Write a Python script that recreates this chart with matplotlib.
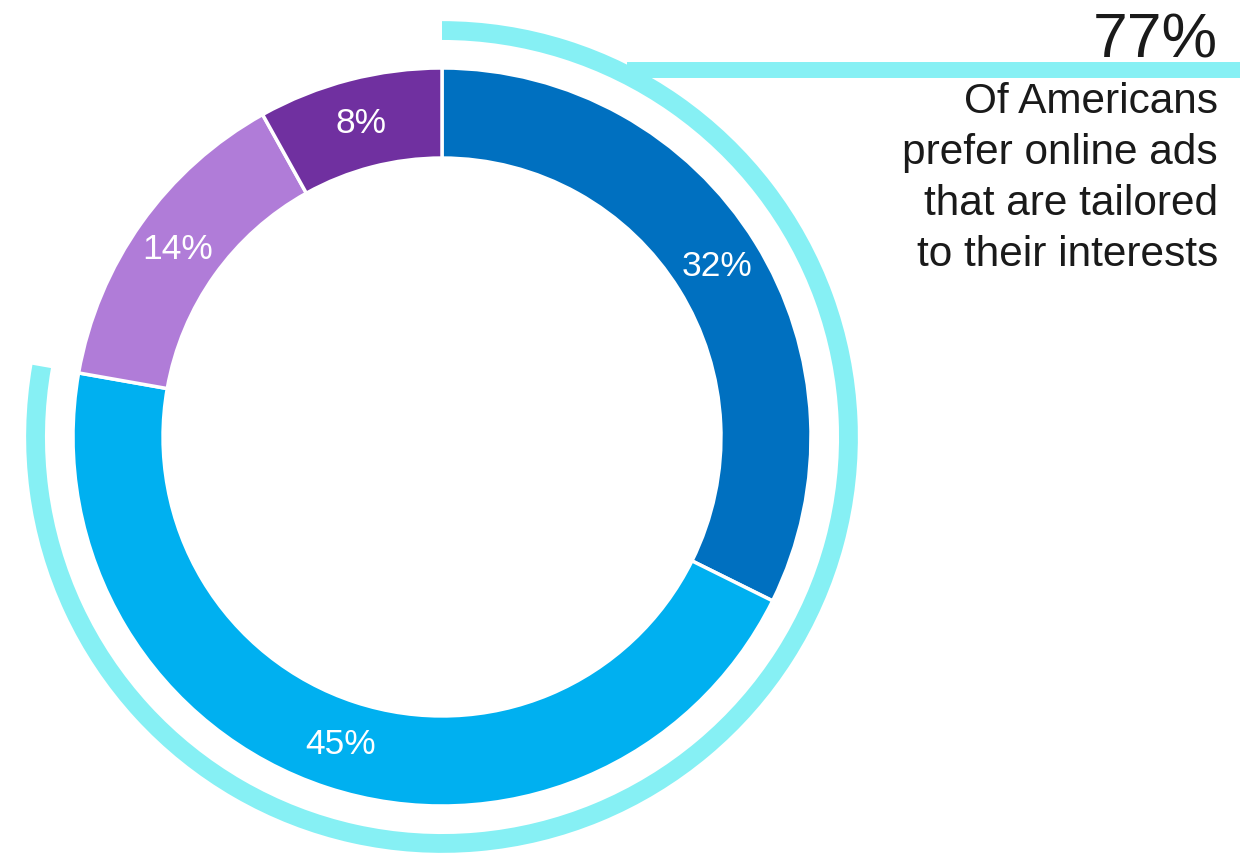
import matplotlib.pyplot as plt

plt.rcParams['font.family'] = ['Liberation Sans', 'DejaVu Sans']

# Dados do gráfico
valores = [32, 45, 14, 8]
rotulos = ['32%', '45%', '14%', '8%']
cores = ['#0070C0', '#00B0F0', '#B07CD8', '#7030A0']

destaque = 77  # 32% + 45%
destaque_rotulo = '77%'
descricao = ['Of Americans', 'prefer online ads', 'that are tailored', 'to their interests']

cor_arco = '#86F0F4'
cor_texto = '#1a1a1a'

fig = plt.figure(figsize=(12.48, 8.63), dpi=100)
ax = fig.add_axes([0, 0, 1, 1])

# unidades: raio externo do anel = 1 (369 px)
R = 369.0
cx, cy = 442.0, 437.0

# Anel principal
wedges, textos = ax.pie(valores, colors=cores, startangle=90, counterclock=False,
                        radius=1.0, labels=rotulos, labeldistance=0.878,
                        wedgeprops=dict(width=0.244, edgecolor='white', linewidth=2.5),
                        textprops=dict(color='white', fontsize=25.5))
for t in textos:
    t.set_horizontalalignment('center')
    t.set_verticalalignment('center')

# Arco externo com o total destacado
ax.pie([destaque, sum(valores) - destaque], colors=[cor_arco, 'none'], startangle=90,
       counterclock=False, radius=1.127, wedgeprops=dict(width=0.051, linewidth=0))

# Linha horizontal ligando o arco ao texto
y_linha = (cy - 70) / R
ax.plot([(627 - cx) / R, (1240 - cx) / R], [y_linha, y_linha], color=cor_arco,
        linewidth=11.5, solid_capstyle='butt')

# Textos à direita
x_txt = (1218 - cx) / R
ax.text(x_txt, (cy - 58) / R, destaque_rotulo, fontsize=45, color=cor_texto,
        ha='right', va='baseline')
for i, linha in enumerate(descricao):
    ax.text(x_txt, (cy - 113 - 51 * i) / R, linha, fontsize=30.5, color=cor_texto,
            ha='right', va='baseline')

ax.set_xlim(-cx / R, (1248 - cx) / R)
ax.set_ylim(-(863 - cy) / R, cy / R)
ax.set_aspect('equal')
ax.axis('off')

fig.savefig('out.png', dpi=100)
